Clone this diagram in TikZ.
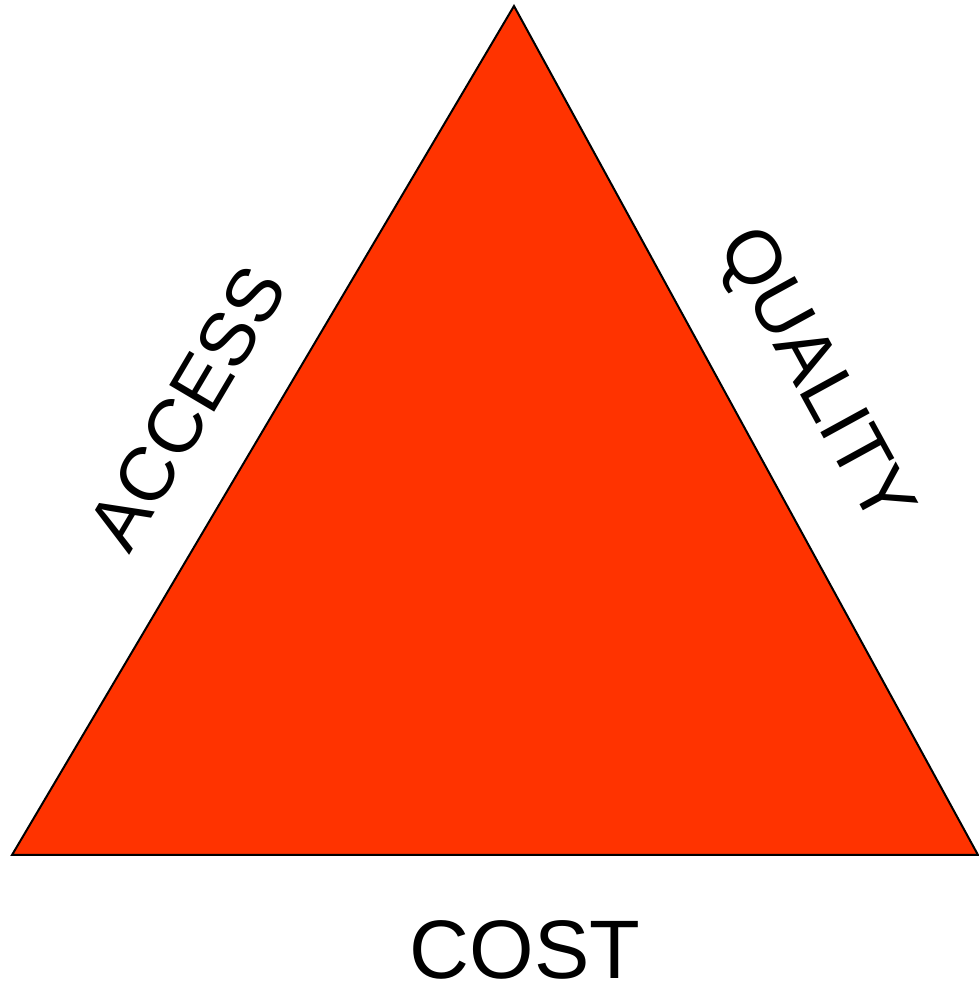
\documentclass[tikz,border=0pt]{standalone}
\usepackage{fontspec}
\setmainfont{Liberation Sans}
\definecolor{trired}{HTML}{FF3300}

\begin{document}
\begin{tikzpicture}[x=1pt, y=1pt, edgelabel/.style={font=\fontsize{76}{80}\selectfont, inner sep=0pt}]
   % Frame
   \useasboundingbox (0,0) rectangle (978,986);

   % Corners
   \coordinate (top) at (514,980);
   \coordinate (left) at (12,131);
   \coordinate (right) at (978,131);

   % Triangle
   \filldraw[fill=trired, draw=black, line width=2pt, line join=miter] (left) -- (top) -- (right) -- cycle;

   % Labels for the sides
   \node[edgelabel, rotate=59.4] (access) at (187,578) {ACCESS};
   \node[edgelabel, rotate=-61.3] (quality) at (813,608) {QUALITY};
   \node[font=\fontsize{83}{87}\selectfont, inner sep=0pt] (cost) at (525,36) {COST};
\end{tikzpicture}
\end{document}
